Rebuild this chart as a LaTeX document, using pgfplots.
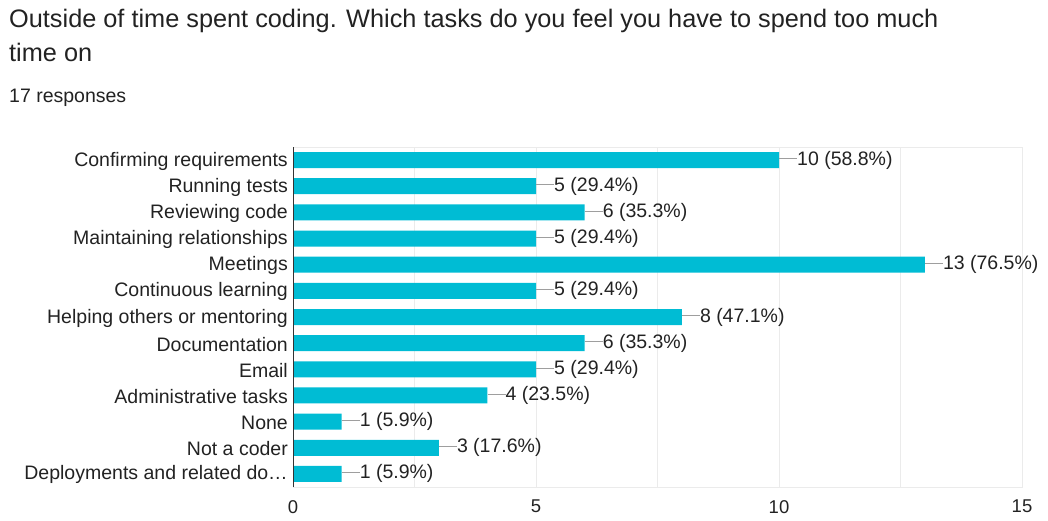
\documentclass[border=0pt]{standalone}
\usepackage{pgfplots}
\pgfplotsset{compat=1.18}
\usepackage{fontspec}
\setmainfont{Liberation Sans}
\definecolor{barc}{HTML}{00BCD4}
\definecolor{gridc}{HTML}{EBEBEB}
\definecolor{txt}{HTML}{222222}
\definecolor{linec}{HTML}{9E9E9E}
\definecolor{axisc}{HTML}{333333}
\begin{document}
\begin{tikzpicture}[x=1pt,y=1pt]
\useasboundingbox (0,0) rectangle (1048,-520);
\node[anchor=base west,inner sep=0pt,text=txt,font=\fontsize{25.3}{30}\selectfont] at (9,-27) {Outside of time spent coding. Which tasks do you feel you have to spend too much};
\node[anchor=base west,inner sep=0pt,text=txt,font=\fontsize{25.3}{30}\selectfont] at (9,-61) {time on};
\node[anchor=base west,inner sep=0pt,text=txt,font=\fontsize{19.5}{22}\selectfont] at (9,-102) {17 responses};
\begin{axis}[
  at={(293pt,-487pt)}, anchor=south west,
  scale only axis, width=729pt, height=340pt,
  xmin=0, xmax=15, ymin=-0.5, ymax=12.5, y dir=reverse,
  xbar, bar width=16pt,
  xtick={0,5,10,15}, minor xtick={2.5,7.5,12.5},
  xmajorgrids, xminorgrids,
  grid style={draw=gridc, line width=1pt},
  minor grid style={draw=gridc, line width=1pt},
  major tick length=0pt, minor tick length=0pt,
  axis line style={draw=gridc, line width=1pt},
  ytick={0,...,12},
  yticklabels={Confirming requirements,Running tests,Reviewing code,Maintaining relationships,Meetings,Continuous learning,Helping others or mentoring,Documentation,Email,Administrative tasks,None,Not a coder,Deployments and related do…},
  tick label style={inner sep=0pt, text=txt, font=\fontsize{18.5}{22}\selectfont},
  yticklabel style={font=\fontsize{19.5}{22}\selectfont, yshift=-1pt},
  yticklabel shift=5pt, xticklabel shift=13pt,
  /pgf/number format/assume math mode=true,
  point meta=explicit symbolic,
  nodes near coords,
  every node near coord/.append style={anchor=west, inner sep=0pt, text=txt, font=\fontsize{19.5}{22}\selectfont},
  clip=false,
]
\addplot[fill=barc, draw=none] coordinates {
(10,0) [{\textcolor{linec}{\rule[0.3em]{18pt}{1pt}}10 (58.8\%)}]
(5,1) [{\textcolor{linec}{\rule[0.3em]{18pt}{1pt}}5 (29.4\%)}]
(6,2) [{\textcolor{linec}{\rule[0.3em]{18pt}{1pt}}6 (35.3\%)}]
(5,3) [{\textcolor{linec}{\rule[0.3em]{18pt}{1pt}}5 (29.4\%)}]
(13,4) [{\textcolor{linec}{\rule[0.3em]{18pt}{1pt}}13 (76.5\%)}]
(5,5) [{\textcolor{linec}{\rule[0.3em]{18pt}{1pt}}5 (29.4\%)}]
(8,6) [{\textcolor{linec}{\rule[0.3em]{18pt}{1pt}}8 (47.1\%)}]
(6,7) [{\textcolor{linec}{\rule[0.3em]{18pt}{1pt}}6 (35.3\%)}]
(5,8) [{\textcolor{linec}{\rule[0.3em]{18pt}{1pt}}5 (29.4\%)}]
(4,9) [{\textcolor{linec}{\rule[0.3em]{18pt}{1pt}}4 (23.5\%)}]
(1,10) [{\textcolor{linec}{\rule[0.3em]{18pt}{1pt}}1 (5.9\%)}]
(3,11) [{\textcolor{linec}{\rule[0.3em]{18pt}{1pt}}3 (17.6\%)}]
(1,12) [{\textcolor{linec}{\rule[0.3em]{18pt}{1pt}}1 (5.9\%)}]
};
\draw[axisc, line width=1pt] (axis cs:0,-0.5) -- (axis cs:0,12.5);
\end{axis}
\end{tikzpicture}
\end{document}
